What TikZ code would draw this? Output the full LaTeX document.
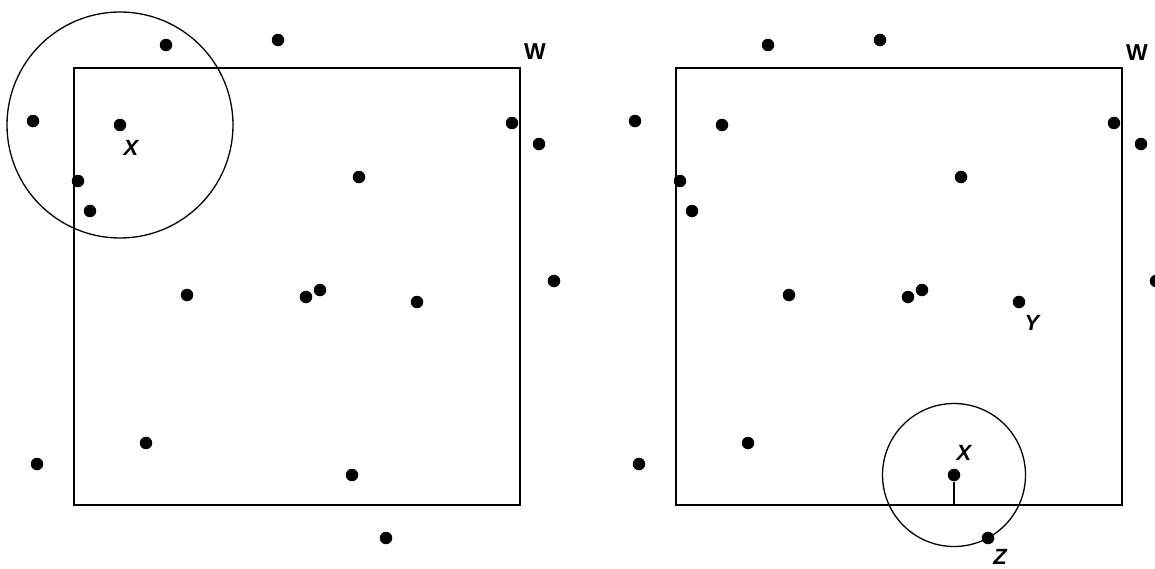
\documentclass[tikz,border=0pt]{standalone}
\usepackage{fontspec}
\setmainfont{Liberation Sans}
\newcommand{\Lbl}[1]{{\fontsize{22pt}{24pt}\selectfont\bfseries\itshape #1}}
\newcommand{\Wbl}[1]{{\fontsize{23pt}{24pt}\selectfont\bfseries #1}}
\begin{document}
\begin{tikzpicture}[x=1pt,y=-1pt,line width=1.3pt,
  dot/.style={circle,fill=black,inner sep=0pt,minimum size=12.5pt},
  lab/.style={inner sep=0pt},
  wlab/.style={inner sep=0pt}]
\useasboundingbox (0,0) rectangle (1155,568);
% left panel
\draw (74,68) rectangle (520,505);
\node[wlab] (W1) at (535,52) {\Wbl{W}};
\foreach \n/\x/\y in {a/166/45,b/278/40,c/33/121,X1/120/125,e/512/123,f/539/144,g/359/177,h/78/181,i/90/211,j/187/295,k/306/297,l/320/290,m/417/302,n/554/281,o/146/443,p/37/464,q/352/475,r/386/538}
  \node[dot] (L\n) at (\x,\y) {};
\draw (LX1.center) circle (113);
\node[lab] (XL) at (131,148) {\Lbl{X}};
% right panel
\begin{scope}[xshift=602pt]
\draw (74,68) rectangle (520,505);
\node[wlab] (W2) at (535,53) {\Wbl{W}};
\foreach \n/\x/\y in {a/166/45,b/278/40,c/33/121,d/120/125,e/512/123,f/539/144,g/359/177,h/78/181,i/90/211,j/187/295,k/306/297,l/320/290,Y/417/302,n/554/281,o/146/443,p/37/464,X/352/475,Z/386/538}
  \node[dot] (R\n) at (\x,\y) {};
\draw (RX.center) circle (71.5);
\coordinate (xb) at (352,505);
\draw (RX) -- (xb);
\node[lab] (XR) at (362,453) {\Lbl{X}};
\node[lab] (YR) at (430,323) {\Lbl{Y}};
\node[lab] (ZR) at (398,557) {\Lbl{Z}};
\end{scope}
\end{tikzpicture}
\end{document}
